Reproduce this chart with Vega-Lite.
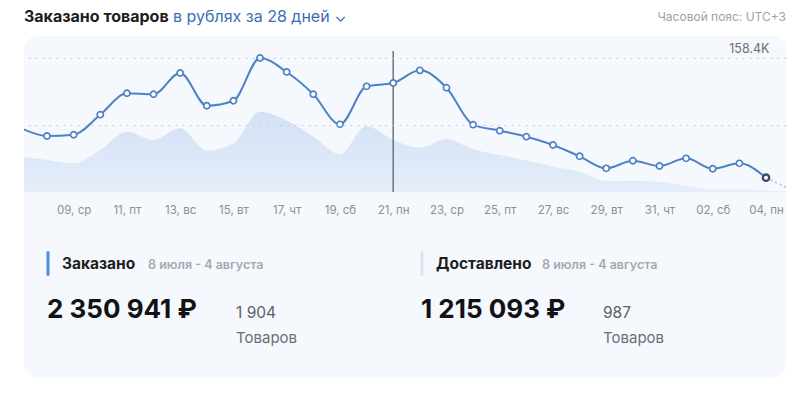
{
  "$schema": "https://vega.github.io/schema/vega-lite/v6.json",
  "background": "#ffffff",
  "padding": {"left": 24, "top": 7, "right": 14, "bottom": 18},
  "bounds": "flush",
  "spacing": 9,
  "config": {
    "view": {"stroke": null},
    "font": "Inter",
    "text": {"font": "Inter"},
    "axis": {"labelFont": "Inter", "titleFont": "Inter"}
  },
  "datasets": {
    "header": [
      {"title": "Заказано товаров", "subtitle": "в рублях за 28 дней ⌄", "timezone": "Часовой пояс: UTC+3"}
    ],
    "daily": [
      {"date": "2025-07-07", "ordered": 75800, "delivered": 41500},
      {"date": "2025-07-08", "ordered": 66200, "delivered": 37800},
      {"date": "2025-07-09", "ordered": 67700, "delivered": 33900},
      {"date": "2025-07-10", "ordered": 91400, "delivered": 49600},
      {"date": "2025-07-11", "ordered": 116700, "delivered": 71300},
      {"date": "2025-07-12", "ordered": 115500, "delivered": 61500},
      {"date": "2025-07-13", "ordered": 140700, "delivered": 75300},
      {"date": "2025-07-14", "ordered": 102000, "delivered": 48800},
      {"date": "2025-07-15", "ordered": 107900, "delivered": 57600},
      {"date": "2025-07-16", "ordered": 158400, "delivered": 94900},
      {"date": "2025-07-17", "ordered": 141800, "delivered": 84500},
      {"date": "2025-07-18", "ordered": 115500, "delivered": 65400},
      {"date": "2025-07-19", "ordered": 80000, "delivered": 44900},
      {"date": "2025-07-20", "ordered": 124900, "delivered": 78000},
      {"date": "2025-07-21", "ordered": 128800, "delivered": 61500},
      {"date": "2025-07-22", "ordered": 143800, "delivered": 52400},
      {"date": "2025-07-23", "ordered": 123300, "delivered": 62300},
      {"date": "2025-07-24", "ordered": 79600, "delivered": 50500},
      {"date": "2025-07-25", "ordered": 72500, "delivered": 43700},
      {"date": "2025-07-26", "ordered": 65400, "delivered": 37200},
      {"date": "2025-07-27", "ordered": 55600, "delivered": 29900},
      {"date": "2025-07-28", "ordered": 42200, "delivered": 24000},
      {"date": "2025-07-29", "ordered": 28000, "delivered": 13000},
      {"date": "2025-07-30", "ordered": 37000, "delivered": 13400},
      {"date": "2025-07-31", "ordered": 30700, "delivered": 12200},
      {"date": "2025-08-01", "ordered": 39800, "delivered": 7100},
      {"date": "2025-08-02", "ordered": 27500, "delivered": 2400},
      {"date": "2025-08-03", "ordered": 33900, "delivered": 3200},
      {"date": "2025-08-04", "ordered": 16900, "delivered": 1500},
      {"date": "2025-08-05", "ordered": 2000, "delivered": 800}
    ],
    "cursor": [{"date": "2025-07-21"}],
    "stats": [
      {"metric": "Заказано", "period": "8 июля - 4 августа", "amount": "2 350 941 ₽", "count": "1 904", "unit": "Товаров"},
      {"metric": "Доставлено", "period": "8 июля - 4 августа", "amount": "1 215 093 ₽", "count": "987", "unit": "Товаров"}
    ]
  },
  "vconcat": [
    {
      "width": 762,
      "height": 20,
      "data": {"name": "header"},
      "layer": [
        {
          "mark": {"type": "text", "align": "left", "baseline": "middle", "fontSize": 16, "fontWeight": "bold", "color": "#1c1d21"},
          "encoding": {
            "x": {"datum": "title", "type": "nominal", "scale": {"type": "point", "domain": ["title", "timezone"], "padding": 0}, "axis": null},
            "text": {"field": "title", "type": "nominal"}
          }
        },
        {
          "mark": {"type": "text", "align": "left", "baseline": "middle", "fontSize": 16, "color": "#3d6eb5", "dx": 149},
          "encoding": {
            "x": {"datum": "title", "type": "nominal"},
            "text": {"field": "subtitle", "type": "nominal"}
          }
        },
        {
          "mark": {"type": "text", "align": "right", "baseline": "middle", "fontSize": 12, "color": "#9ea2a8"},
          "encoding": {
            "x": {"datum": "timezone", "type": "nominal"},
            "text": {"field": "timezone", "type": "nominal"}
          }
        }
      ]
    },
    {
      "width": 762,
      "height": 342,
      "view": {"fill": "#f5f8fc", "cornerRadius": 14, "stroke": null},
      "resolve": {
        "scale": {"x": "independent", "y": "independent", "color": "independent"},
        "axis": {"x": "independent", "y": "independent"}
      },
      "layer": [
        {
          "data": {"name": "daily"},
          "encoding": {
            "x": {
              "field": "date",
              "type": "temporal",
              "scale": {
                "type": "utc",
                "domain": [
                  {"year": 2025, "month": 7, "date": 7, "hours": 3, "minutes": 16, "utc": true},
                  {"year": 2025, "month": 8, "date": 4, "hours": 18, "utc": true}
                ]
              },
              "axis": {
                "title": null,
                "values": [
                  {"year": 2025, "month": 7, "date": 9, "utc": true},
                  {"year": 2025, "month": 7, "date": 11, "utc": true},
                  {"year": 2025, "month": 7, "date": 13, "utc": true},
                  {"year": 2025, "month": 7, "date": 15, "utc": true},
                  {"year": 2025, "month": 7, "date": 17, "utc": true},
                  {"year": 2025, "month": 7, "date": 19, "utc": true},
                  {"year": 2025, "month": 7, "date": 21, "utc": true},
                  {"year": 2025, "month": 7, "date": 23, "utc": true},
                  {"year": 2025, "month": 7, "date": 25, "utc": true},
                  {"year": 2025, "month": 7, "date": 27, "utc": true},
                  {"year": 2025, "month": 7, "date": 29, "utc": true},
                  {"year": 2025, "month": 7, "date": 31, "utc": true},
                  {"year": 2025, "month": 8, "date": 2, "utc": true},
                  {"year": 2025, "month": 8, "date": 4, "utc": true}
                ],
                "labelExpr": "utcFormat(datum.value, '%d') + ', ' + ['вс','пн','вт','ср','чт','пт','сб'][utcday(datum.value)]",
                "domain": false,
                "ticks": false,
                "tickSize": 0,
                "grid": false,
                "labelPadding": 0,
                "offset": -174,
                "labelColor": "#8b9097",
                "labelFontSize": 11.5,
                "labelFlush": false,
                "labelOverlap": false
              }
            }
          },
          "layer": [
            {
              "mark": {
                "type": "area",
                "interpolate": "monotone",
                "clip": true,
                "color": {
                  "gradient": "linear",
                  "x1": 0, "y1": 0, "x2": 0, "y2": 1,
                  "stops": [
                    {"offset": 0, "color": "#d3e1f5"},
                    {"offset": 1, "color": "#e4edf9"}
                  ]
                }
              },
              "encoding": {
                "y": {
                  "field": "delivered",
                  "type": "quantitative",
                  "scale": {"domain": [-219870, 184410], "nice": false, "zero": false},
                  "axis": {
                    "orient": "right",
                    "title": null,
                    "values": [79200, 158400],
                    "grid": true,
                    "gridDash": [2, 5],
                    "gridColor": "#c6cdd7",
                    "gridWidth": 1,
                    "domain": false,
                    "ticks": false,
                    "tickSize": 0,
                    "zindex": 1,
                    "labelExpr": "datum.value == 158400 ? '158.4K' : ''",
                    "labelAlign": "right",
                    "labelBaseline": "alphabetic",
                    "labelPadding": -17,
                    "labelOffset": -6,
                    "labelColor": "#6b6f75",
                    "labelFontSize": 12.5
                  }
                },
                "y2": {"datum": 0}
              }
            },
            {
              "transform": [{"filter": {"field": "date", "lte": {"year": 2025, "month": 8, "date": 4, "utc": true}}}],
              "mark": {"type": "line", "interpolate": "monotone", "clip": true, "color": "#4e83c3", "strokeWidth": 2},
              "encoding": {"y": {"field": "ordered", "type": "quantitative"}}
            },
            {
              "transform": [{"filter": {"field": "date", "gte": {"year": 2025, "month": 8, "date": 4, "utc": true}}}],
              "mark": {"type": "line", "clip": true, "color": "#a9bcd3", "strokeWidth": 1.5, "strokeDash": [2, 3]},
              "encoding": {"y": {"field": "ordered", "type": "quantitative"}}
            },
            {
              "data": {"name": "cursor"},
              "mark": {"type": "rule", "color": "#6d737b", "strokeWidth": 1.5},
              "encoding": {
                "y": {"datum": 0, "type": "quantitative"},
                "y2": {"datum": 166700}
              }
            },
            {
              "transform": [{"filter": {"field": "date", "range": [
                {"year": 2025, "month": 7, "date": 8, "utc": true},
                {"year": 2025, "month": 8, "date": 3, "utc": true}
              ]}}],
              "mark": {"type": "point", "shape": "circle", "filled": true, "fill": "#ffffff", "stroke": "#4e83c3", "strokeWidth": 1.7, "size": 38, "opacity": 1, "clip": true},
              "encoding": {"y": {"field": "ordered", "type": "quantitative"}}
            },
            {
              "transform": [{"filter": {"field": "date", "equal": {"year": 2025, "month": 8, "date": 4, "utc": true}}}],
              "mark": {"type": "point", "shape": "circle", "filled": true, "fill": "#ffffff", "stroke": "#33506f", "strokeWidth": 2.4, "size": 40, "opacity": 1},
              "encoding": {"y": {"field": "ordered", "type": "quantitative"}}
            }
          ]
        },
        {
          "data": {"name": "stats"},
          "encoding": {
            "x": {
              "field": "metric",
              "type": "nominal",
              "bandPosition": 0,
              "scale": {"type": "band", "domain": ["Заказано", "Доставлено"], "paddingInner": 0.0267, "paddingOuter": 0.0321, "align": 1},
              "axis": null
            }
          },
          "layer": [
            {
              "mark": {"type": "tick", "orient": "vertical", "size": 25, "thickness": 3, "cornerRadius": 1.5, "opacity": 1},
              "encoding": {
                "y": {"datum": "name", "type": "nominal", "scale": {"type": "point", "domain": ["name", "gap", "amount", "unit"], "range": [227.5, 302.5], "padding": 0}, "axis": null},
                "color": {"field": "metric", "type": "nominal", "scale": {"domain": ["Заказано", "Доставлено"], "range": ["#4a8fe0", "#dbe5f2"]}, "legend": null}
              }
            },
            {
              "mark": {"type": "text", "align": "left", "baseline": "alphabetic", "dx": 14, "dy": 5, "fontSize": 15.5, "fontWeight": "bold", "color": "#1c1d21"},
              "encoding": {
                "y": {"datum": "name", "type": "nominal"},
                "text": {"field": "metric", "type": "nominal"}
              }
            },
            {
              "transform": [{"filter": "datum.metric == 'Заказано'"}],
              "mark": {"type": "text", "align": "left", "baseline": "alphabetic", "dx": 100, "dy": 5, "fontSize": 12.5, "fontWeight": 600, "color": "#a3a9b1"},
              "encoding": {
                "y": {"datum": "name", "type": "nominal"},
                "text": {"field": "period", "type": "nominal"}
              }
            },
            {
              "transform": [{"filter": "datum.metric == 'Доставлено'"}],
              "mark": {"type": "text", "align": "left", "baseline": "alphabetic", "dx": 120, "dy": 5, "fontSize": 12.5, "fontWeight": 600, "color": "#a3a9b1"},
              "encoding": {
                "y": {"datum": "name", "type": "nominal"},
                "text": {"field": "period", "type": "nominal"}
              }
            },
            {
              "mark": {"type": "text", "align": "left", "baseline": "alphabetic", "dx": -1, "dy": 4.5, "fontSize": 26, "fontWeight": "bold", "color": "#111215"},
              "encoding": {
                "y": {"datum": "amount", "type": "nominal"},
                "text": {"field": "amount", "type": "nominal"}
              }
            },
            {
              "transform": [{"filter": "datum.metric == 'Заказано'"}],
              "mark": {"type": "text", "align": "left", "baseline": "alphabetic", "dx": 188, "dy": 4.5, "fontSize": 15.5, "color": "#5b5f66"},
              "encoding": {
                "y": {"datum": "amount", "type": "nominal"},
                "text": {"field": "count", "type": "nominal"}
              }
            },
            {
              "transform": [{"filter": "datum.metric == 'Доставлено'"}],
              "mark": {"type": "text", "align": "left", "baseline": "alphabetic", "dx": 181, "dy": 4.5, "fontSize": 15.5, "color": "#5b5f66"},
              "encoding": {
                "y": {"datum": "amount", "type": "nominal"},
                "text": {"field": "count", "type": "nominal"}
              }
            },
            {
              "transform": [{"filter": "datum.metric == 'Заказано'"}],
              "mark": {"type": "text", "align": "left", "baseline": "alphabetic", "dx": 188, "dy": 4.5, "fontSize": 15, "color": "#6b6f76"},
              "encoding": {
                "y": {"datum": "unit", "type": "nominal"},
                "text": {"field": "unit", "type": "nominal"}
              }
            },
            {
              "transform": [{"filter": "datum.metric == 'Доставлено'"}],
              "mark": {"type": "text", "align": "left", "baseline": "alphabetic", "dx": 181, "dy": 4.5, "fontSize": 15, "color": "#6b6f76"},
              "encoding": {
                "y": {"datum": "unit", "type": "nominal"},
                "text": {"field": "unit", "type": "nominal"}
              }
            }
          ]
        }
      ]
    }
  ]
}
